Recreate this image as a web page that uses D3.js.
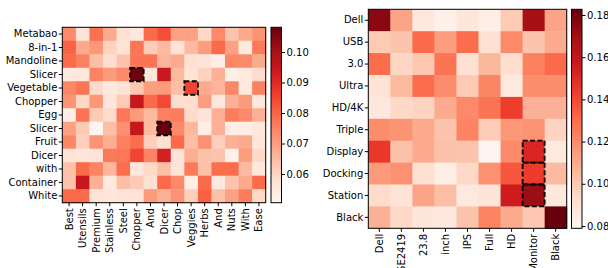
<!DOCTYPE html>
<html><head><meta charset="utf-8">
<script src="https://cdn.jsdelivr.net/npm/d3@7"></script>
<style>body{margin:0;background:#fff}svg{display:block}text{font-family:"DejaVu Sans",sans-serif;font-size:10px;fill:#000}</style>
</head><body><svg id="c" width="608" height="268"></svg>
<script>
const leftRows = ["Metabao","8-in-1","Mandoline","Slicer","Vegetable","Chopper","Egg","Slicer","Fruit","Dicer","with","Container","White"];
const leftCols = ["Best","Utensils","Premium","Stainless","Steel","Chopper","And","Dicer","Chop","Veggies","Herbs","And","Nuts","With","Ease"];
const leftValues = [
[0.0736,0.0564,0.0782,0.0679,0.0575,0.0552,0.0794,0.0834,0.0696,0.0696,0.0592,0.0736,0.0633,0.0679,0.0719],
[0.0805,0.0679,0.0713,0.0604,0.0569,0.0776,0.0615,0.0650,0.0569,0.0650,0.0702,0.0794,0.0696,0.0546,0.0765],
[0.0794,0.0753,0.0644,0.0581,0.0633,0.0776,0.0776,0.0661,0.0679,0.0575,0.0564,0.0529,0.0742,0.0736,0.0679],
[0.0546,0.0552,0.0748,0.0707,0.0736,0.1070,0.0558,0.0937,0.0650,0.0569,0.0604,0.0667,0.0529,0.0546,0.0587],
[0.0742,0.0776,0.0587,0.0546,0.0569,0.0627,0.0702,0.0707,0.0644,0.0851,0.0679,0.0661,0.0742,0.0546,0.0753],
[0.0719,0.0592,0.0713,0.0558,0.0621,0.0943,0.0794,0.0845,0.0581,0.0581,0.0702,0.0552,0.0667,0.0707,0.0552],
[0.0529,0.0776,0.0621,0.0587,0.0771,0.0707,0.0650,0.0753,0.0759,0.0587,0.0564,0.0667,0.0759,0.0736,0.0667],
[0.0696,0.0621,0.0506,0.0644,0.0725,0.0949,0.0650,0.1081,0.0736,0.0656,0.0529,0.0667,0.0529,0.0535,0.0552],
[0.0742,0.0610,0.0719,0.0673,0.0753,0.0788,0.0610,0.0575,0.0794,0.0644,0.0725,0.0610,0.0667,0.0679,0.0558],
[0.0564,0.0558,0.0564,0.0765,0.0771,0.0851,0.0748,0.0920,0.0564,0.0673,0.0638,0.0633,0.0523,0.0702,0.0592],
[0.0638,0.0794,0.0748,0.0656,0.0788,0.0552,0.0592,0.0644,0.0564,0.0765,0.0638,0.0788,0.0788,0.0650,0.0552],
[0.0633,0.0949,0.0667,0.0546,0.0644,0.0621,0.0575,0.0794,0.0736,0.0529,0.0794,0.0546,0.0633,0.0679,0.0794],
[0.0794,0.0794,0.0569,0.0558,0.0569,0.0569,0.0707,0.0667,0.0719,0.0610,0.0805,0.0638,0.0696,0.0759,0.0592]
];
const leftHighlights = [[3,5],[4,9],[7,7]];
const leftTicks = [0.06,0.07,0.08,0.09,0.10];

const rightRows = ["Dell","USB","3.0","Ultra","HD/4K","Triple","Display","Docking","Station","Black"];
const rightCols = ["Dell","SE2419","23.8","inch","IPS","Full","HD","Monitor","Black"];
const rightValues = [
[0.1754,0.1121,0.0872,0.0820,0.0882,0.0831,0.0997,0.1692,0.1121],
[0.0997,0.1017,0.1308,0.1142,0.1298,0.0914,0.1204,0.1017,0.1100],
[0.1298,0.0955,0.1007,0.1277,0.0914,0.1059,0.0924,0.1235,0.1308],
[0.0903,0.1049,0.1298,0.1194,0.0997,0.1215,0.0862,0.1194,0.1194],
[0.0872,0.0945,0.0965,0.1100,0.1204,0.1277,0.1433,0.1080,0.1080],
[0.1194,0.1173,0.1100,0.1017,0.1225,0.0986,0.1163,0.1173,0.0965],
[0.1453,0.1028,0.1100,0.1028,0.1017,0.0789,0.1204,0.1516,0.0862],
[0.1152,0.1183,0.0914,0.0831,0.0945,0.1183,0.1360,0.1443,0.1049],
[0.0934,0.0903,0.1121,0.1038,0.0862,0.0893,0.1557,0.1713,0.0872],
[0.1080,0.0945,0.0882,0.0872,0.1017,0.1225,0.1100,0.1007,0.1827]
];
const rightHighlights = [[6,7],[7,7],[8,7]];
const rightTicks = [0.08,0.10,0.12,0.14,0.16,0.18];

const redsColors = ["#fff5f0","#fee0d2","#fcbba1","#fc9272","#fb6a4a","#ef3b2c","#cb181d","#a50f15","#67000d"];
const reds = d3.scaleLinear().domain(d3.range(9).map(i=>i/8)).range(redsColors).interpolate(d3.interpolateRgb).clamp(true);

const svg = d3.select("#c");
let gid = 0;

function heatmap(cfg){
  const {rows, cols, values, highlights, ticks, x0, x1, y0, y1, cbX, cbW} = cfg;
  const ext = d3.extent(values.flat());
  const norm = d3.scaleLinear().domain(ext).range([0,1]);
  const color = v => reds(norm(v));
  const x = d3.scaleBand().domain(d3.range(cols.length)).range([x0,x1]).padding(0);
  const y = d3.scaleBand().domain(d3.range(rows.length)).range([y0,y1]).padding(0);
  const g = svg.append("g");
  values.forEach((row,ri)=>{
    g.selectAll(null).data(row).enter().append("rect")
      .attr("x",(d,ci)=>x(ci)).attr("y",y(ri))
      .attr("width",x.bandwidth()+0.5).attr("height",y.bandwidth()+0.5)
      .attr("fill",d=>color(d));
  });
  g.selectAll(null).data(highlights).enter().append("rect")
    .attr("x",d=>x(d[1])).attr("y",d=>y(d[0]))
    .attr("width",x.bandwidth()).attr("height",y.bandwidth())
    .attr("fill","none").attr("stroke","#000").attr("stroke-width",1.8).attr("stroke-dasharray","5,2.4");
  g.append("rect").attr("x",x0).attr("y",y0).attr("width",x1-x0).attr("height",y1-y0)
    .attr("fill","none").attr("stroke","#000").attr("stroke-width",1);
  const ya = d3.axisLeft(y).tickSize(3.5).tickPadding(1.5).tickFormat(i=>rows[i]);
  const yg = g.append("g").attr("transform",`translate(${x0},0)`).call(ya);
  yg.select(".domain").remove();
  yg.selectAll("text").style("font-size","10px").style("font-family","DejaVu Sans");
  const xa = d3.axisBottom(x).tickSize(3.5).tickPadding(2).tickFormat(i=>cols[i]);
  const xg = g.append("g").attr("transform",`translate(0,${y1})`).call(xa);
  xg.select(".domain").remove();
  xg.selectAll("text").attr("transform","rotate(-90)").attr("text-anchor","end")
    .attr("x",-5.5).attr("y",0).attr("dy","0.35em").style("font-size","10px").style("font-family","DejaVu Sans");
  const id = "grad"+(gid++);
  const grad = svg.append("defs").append("linearGradient").attr("id",id)
    .attr("x1","0").attr("y1","1").attr("x2","0").attr("y2","0");
  d3.range(0,1.0001,0.02).forEach(t=>grad.append("stop").attr("offset",t).attr("stop-color",reds(t)));
  g.append("rect").attr("x",cbX).attr("y",y0).attr("width",cbW).attr("height",y1-y0).attr("fill",`url(#${id})`)
    .attr("stroke","#000").attr("stroke-width",1);
  const cy = d3.scaleLinear().domain(ext).range([y1,y0]);
  const ca = d3.axisRight(cy).tickValues(ticks).tickSize(3.5).tickPadding(1.5).tickFormat(d3.format(".2f"));
  const cg = g.append("g").attr("transform",`translate(${cbX+cbW},0)`).call(ca);
  cg.select(".domain").remove();
  cg.selectAll("text").style("font-size","10px").style("font-family","DejaVu Sans");
}

heatmap({rows:leftRows, cols:leftCols, values:leftValues, highlights:leftHighlights, ticks:leftTicks,
  x0:62.3, x1:265.7, y0:27.3, y1:202.7, cbX:271, cbW:10.5});
heatmap({rows:rightRows, cols:rightCols, values:rightValues, highlights:rightHighlights, ticks:rightTicks,
  x0:368.3, x1:566.7, y0:9.3, y1:228.3, cbX:571.5, cbW:10.5});
</script></body></html>
